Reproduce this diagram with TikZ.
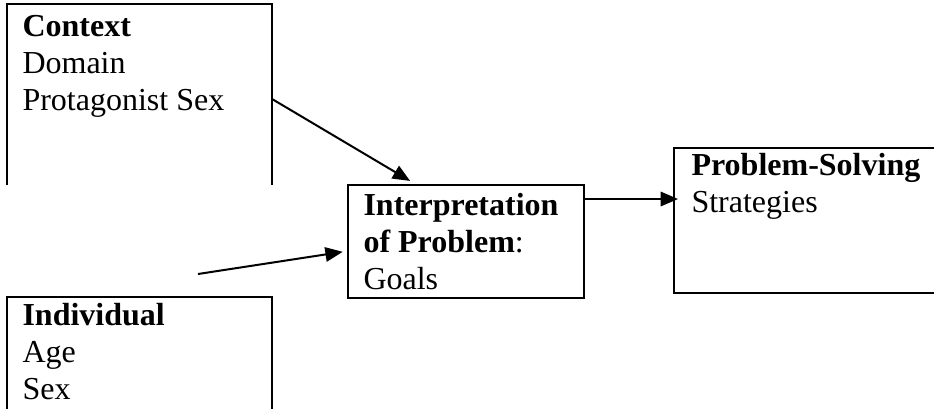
\documentclass[tikz,border=0pt]{standalone}
\usepackage{fontspec}
\setmainfont{Liberation Serif}
\usepackage{tikz}
\usetikzlibrary{arrows.meta}

\tikzset{
  frame/.style={inner sep=0pt, anchor=north west},
  txt/.style={anchor=base west, align=left, inner sep=0pt, font=\fontsize{12}{13.8}\selectfont},
  boxline/.style={black, line width=0.75pt},
  arr/.style={-{Triangle[length=6.5pt,width=5.4pt]}, line width=0.75pt},
}

\begin{document}
\begin{tikzpicture}[x=0.375pt, y=-0.375pt]
    \useasboundingbox (0,0) rectangle (934,408);
    \clip (0,0) rectangle (934,408);

    \node[frame, minimum width=99pt, minimum height=67.5pt] (ctx) at (7,4) {};
    \node[frame, minimum width=99pt, minimum height=46pt] (ind) at (7,297) {};
    \node[frame, minimum width=88.1pt, minimum height=42pt] (interp) at (348,185) {};
    \node[frame, minimum width=105pt, minimum height=54pt] (prob) at (674,148) {};

    \draw[boxline] (ctx.south west) -- (ctx.north west) -- (ctx.north east) -- (ctx.south east);
    \draw[boxline] (ind.south west) -- (ind.north west) -- (ind.north east) -- (ind.south east);
    \draw[boxline] (interp.north west) rectangle (interp.south east);
    \draw[boxline] (prob.north east) -- (prob.north west) -- (prob.south west) -- (prob.south east);

    % base anchor sits on the last line
    \node[txt] (ctxtext) at ([shift={(15,106)}]ctx.north west) {\textbf{Context}\\Domain\\Protagonist Sex};
    \node[txt] (indtext) at ([shift={(15,102)}]ind.north west) {\textbf{Individual}\\Age\\Sex};
    \node[txt] (interptext) at ([shift={(15,104)}]interp.north west) {\textbf{Interpretation}\\\textbf{of Problem}:\\Goals};
    \node[txt] (probtext) at ([shift={(17,64)}]prob.north west) {\textbf{Problem-Solving}\\Strategies};

    \coordinate (tail) at (198,274);
    \draw[arr, shorten >=3pt] (ctx.east |- 0,99) -- (interp.north -| 417,0);
    \draw[arr, shorten >=2pt] (tail) -- (interp.west |- 0,251);
    \draw[arr, shorten >=-1.5pt] (interp.east |- 0,199) -- (prob.west |- 0,199);
\end{tikzpicture}
\end{document}
